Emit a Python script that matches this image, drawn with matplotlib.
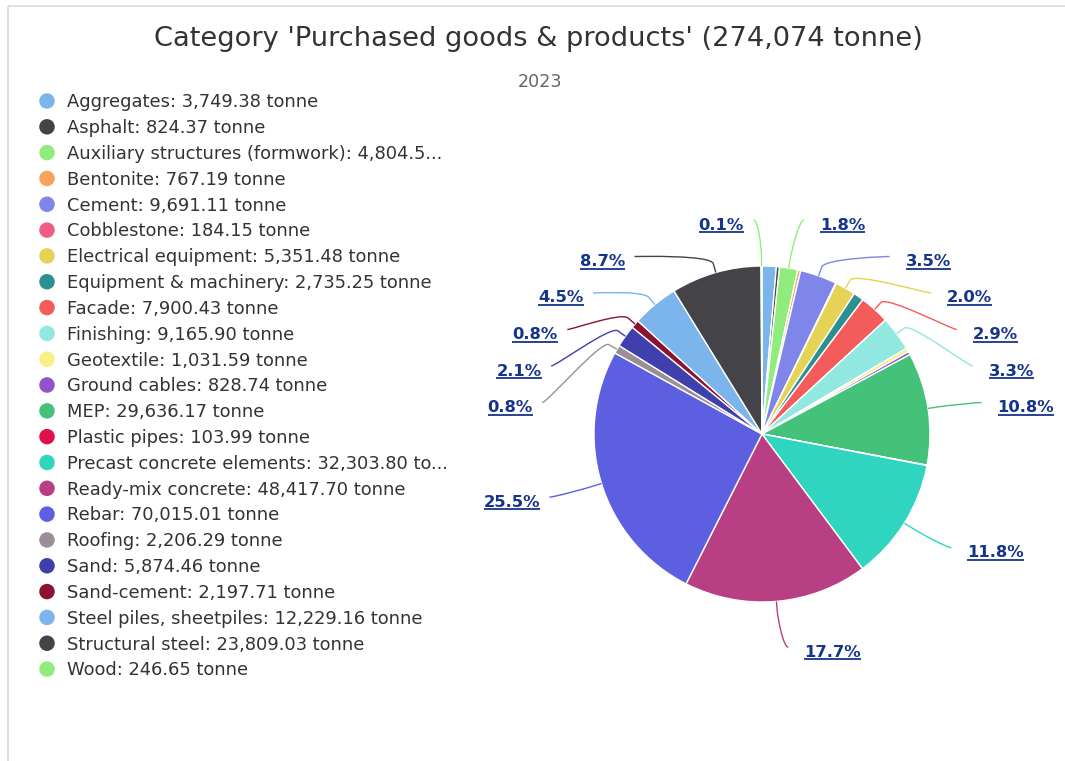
import numpy as np
import matplotlib
matplotlib.use("Agg")
import matplotlib.pyplot as plt
from matplotlib.path import Path
from matplotlib.patches import PathPatch

# ---------------- data ----------------
title = "Category 'Purchased goods & products' (274,074 tonne)"
subtitle = "2023"
categories = ["Aggregates", "Asphalt", "Auxiliary structures (formwork)", "Bentonite",
              "Cement", "Cobblestone", "Electrical equipment", "Equipment & machinery",
              "Facade", "Finishing", "Geotextile", "Ground cables", "MEP", "Plastic pipes",
              "Precast concrete elements", "Ready-mix concrete", "Rebar", "Roofing", "Sand",
              "Sand-cement", "Steel piles, sheetpiles", "Structural steel", "Wood"]
values = [3749.38, 824.37, 4804.50, 767.19, 9691.11, 184.15, 5351.48, 2735.25,
          7900.43, 9165.90, 1031.59, 828.74, 29636.17, 103.99, 32303.80, 48417.70,
          70015.01, 2206.29, 5874.46, 2197.71, 12229.16, 23809.03, 246.65]
legend_labels = ["Aggregates: 3,749.38 tonne", "Asphalt: 824.37 tonne",
                 "Auxiliary structures (formwork): 4,804.5...", "Bentonite: 767.19 tonne",
                 "Cement: 9,691.11 tonne", "Cobblestone: 184.15 tonne",
                 "Electrical equipment: 5,351.48 tonne", "Equipment & machinery: 2,735.25 tonne",
                 "Facade: 7,900.43 tonne", "Finishing: 9,165.90 tonne",
                 "Geotextile: 1,031.59 tonne", "Ground cables: 828.74 tonne",
                 "MEP: 29,636.17 tonne", "Plastic pipes: 103.99 tonne",
                 "Precast concrete elements: 32,303.80 to...", "Ready-mix concrete: 48,417.70 tonne",
                 "Rebar: 70,015.01 tonne", "Roofing: 2,206.29 tonne", "Sand: 5,874.46 tonne",
                 "Sand-cement: 2,197.71 tonne", "Steel piles, sheetpiles: 12,229.16 tonne",
                 "Structural steel: 23,809.03 tonne", "Wood: 246.65 tonne"]
palette = ["#7cb5ec", "#434348", "#90ed7d", "#f7a35c", "#8085e9", "#f15c80", "#e4d354",
           "#2b908f", "#f45b5b", "#91e8e1", "#f8f085", "#9152cc", "#45c27a", "#e0104a",
           "#30d5c0", "#b93f85", "#5b5fe0", "#9a8f99", "#3f40ac", "#8b1230"]
# slices whose percentage label is displayed in the reference
labeled = ["Auxiliary structures (formwork)", "Cement", "Electrical equipment", "Facade",
           "Finishing", "MEP", "Precast concrete elements", "Ready-mix concrete", "Rebar",
           "Roofing", "Sand", "Sand-cement", "Steel piles, sheetpiles", "Structural steel", "Wood"]

colors = [palette[i % len(palette)] for i in range(len(values))]

# ---------------- figure ----------------
W, H = 1065, 761
fig = plt.figure(figsize=(W / 100, H / 100), dpi=100)
ax = fig.add_axes([0, 0, 1, 1])
ax.set_xlim(0, W)
ax.set_ylim(H, 0)   # screen-like coordinates (y down)
ax.axis("off")

PX = 72 / 100  # points per pixel

# frame lines (top & left)
ax.plot([8, W], [6, 6], color="#d9d9d9", lw=1.2, solid_capstyle="butt")
ax.plot([8, 8], [6, H], color="#d9d9d9", lw=1.2, solid_capstyle="butt")

# titles
ax.text(538, 46, title, ha="center", va="baseline", fontsize=19.6, color="#333333",
        family="DejaVu Sans")
ax.text(540, 87, subtitle, ha="center", va="baseline", fontsize=12.6, color="#666666",
        family="DejaVu Sans")

# ---------------- pie ----------------
cx, cy, r = 762.0, 434.0, 168.0
# y axis is inverted -> start at -90 (screen top) and counterclock=True appears clockwise
wedges, _ = ax.pie(values, colors=colors, startangle=-90, counterclock=True, radius=r,
                   center=(cx, cy), wedgeprops=dict(edgecolor="white", linewidth=1.0))
ax.set_xlim(0, W)
ax.set_ylim(H, 0)
ax.set_aspect("auto")
ax.axis("off")

vals = np.array(values, dtype=float)
total = vals.sum()
frac = vals / total
ends = np.cumsum(frac)
starts = ends - frac
mids = (starts + ends) / 2 * 2 * np.pi   # clockwise from top

# label geometry (Highcharts-like)
dist = 46.0
R = r + dist
pad = 8.0
slot = 36.5
topY, botY = cy - R, cy + R


def distribute(targets, size, lo, hi):
    groups = [[i] for i in range(len(targets))]
    pos = {}

    def place(g):
        t = np.mean([targets[i] for i in g])
        s = t - (len(g) - 1) * size / 2
        s = max(lo, min(s, hi - (len(g) - 1) * size))
        return s

    changed = True
    while changed:
        changed = False
        starts_g = [place(g) for g in groups]
        for k in range(len(groups) - 1):
            end_k = starts_g[k] + (len(groups[k]) - 1) * size
            if starts_g[k + 1] < end_k + size - 1e-9:
                groups[k] = groups[k] + groups[k + 1]
                del groups[k + 1]
                changed = True
                break
    for g in groups:
        s = place(g)
        for j, i in enumerate(g):
            pos[i] = s + j * size
    return [pos[i] for i in range(len(targets))]


idx_lab = [categories.index(n) for n in labeled]
sides = {"right": [], "left": []}
for i in idx_lab:
    th = mids[i]
    side = "right" if np.sin(th) >= 0 else "left"
    sides[side].append(i)

label_pos = {}
for side, items in sides.items():
    items = sorted(items, key=lambda i: cy - R * np.cos(mids[i]))
    targets = [cy - R * np.cos(mids[i]) for i in items]
    ys = distribute(targets, slot, topY, botY)
    for i, y in zip(items, ys):
        label_pos[i] = (side, y, targets[items.index(i)])

fig.canvas.draw()
renderer = fig.canvas.get_renderer()

for i, (side, y, ynat) in label_pos.items():
    th = mids[i]
    sgn = 1 if side == "right" else -1
    yy = ynat if (y < topY + 2 or y > botY - 2) else y
    dx = np.sqrt(max(R ** 2 - (yy - cy) ** 2, 0.0))
    xl = cx + sgn * (dx + pad)
    T = (cx + r * np.sin(th), cy - r * np.cos(th))
    off = dist / 5
    B = (cx + (r + off) * np.sin(th), cy - (r + off) * np.cos(th))
    c1 = (xl - sgn * 5, y)
    c2 = (2 * B[0] - T[0], 2 * B[1] - T[1])
    path = Path([(xl, y), c1, c2, B, T],
                [Path.MOVETO, Path.CURVE4, Path.CURVE4, Path.CURVE4, Path.LINETO])
    ax.add_patch(PathPatch(path, facecolor="none", edgecolor=colors[i], lw=1.0, zorder=3))
    pct = f"{frac[i] * 100:.1f}%"
    if side == "right":
        t = ax.text(xl + 16, y + 9.5, pct, ha="left", va="baseline", fontsize=11.8,
                    fontweight="bold", color="#15348a", family="DejaVu Sans", zorder=4)
    else:
        t = ax.text(xl - 9.5, y + 9.5, pct, ha="right", va="baseline", fontsize=11.8,
                    fontweight="bold", color="#15348a", family="DejaVu Sans", zorder=4)
    bb = t.get_window_extent(renderer=renderer)
    x0, x1 = bb.x0, bb.x1
    uy = y + 12
    ax.plot([x0, x1], [uy, uy], color="#15348a", lw=1.3, solid_capstyle="butt", zorder=4)

# ---------------- legend ----------------
ly0, lstep = 101.0, 25.82
for k, (lab, col) in enumerate(zip(legend_labels, colors)):
    yk = ly0 + k * lstep
    ax.scatter([47], [yk], s=(15.5 * PX) ** 2, color=col, edgecolors="none", zorder=3)
    ax.text(67, yk + 6.3, lab, ha="left", va="baseline", fontsize=12.9, color="#333333",
            family="DejaVu Sans")

fig.savefig("out.png", dpi=100)
